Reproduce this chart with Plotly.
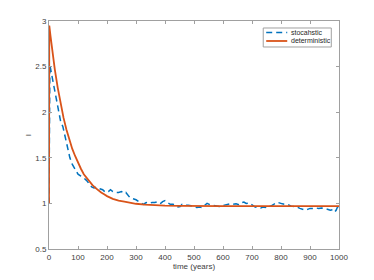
import plotly.graph_objects as go

# deterministic model
det_t = [0, 1, 5, 10, 20, 30, 40, 50, 60, 70, 80, 90, 100, 110, 120, 130, 140, 150,
         160, 170, 180, 190, 200, 220, 240, 260, 280, 300, 330, 360, 400, 450, 500,
         600, 700, 800, 900, 1000]
det_I = [1.0, 2.95, 2.84, 2.71, 2.47, 2.27, 2.10, 1.94, 1.81, 1.70, 1.60, 1.52, 1.44,
         1.38, 1.32, 1.28, 1.23, 1.20, 1.17, 1.14, 1.12, 1.10, 1.08, 1.05, 1.03, 1.02,
         1.005, 0.996, 0.987, 0.981, 0.976, 0.972, 0.97, 0.97, 0.97, 0.97, 0.97, 0.97]

# stochastic realisation
sto_t = [0, 3, 10, 20, 31, 40, 48, 58, 65, 72, 80, 90, 100, 110, 120, 130, 140, 147,
         155, 165, 175, 185, 195, 205, 212, 220, 230, 240, 250, 258, 265, 272, 280,
         290, 300, 310, 318, 325, 335, 345, 355, 365, 375, 385, 392, 400, 408, 418,
         428, 438, 445, 452, 459, 470, 480, 490, 500, 510, 520, 528, 537, 545, 555,
         565, 575, 587, 597, 607, 615, 625, 635, 645, 655, 665, 672, 680, 690, 700,
         711, 720, 730, 738, 746, 755, 765, 775, 783, 790, 797, 805, 815, 825, 835,
         845, 855, 865, 875, 884, 892, 900, 910, 920, 930, 940, 950, 960, 970, 978,
         985, 990, 995, 1000]
sto_I = [1.0, 2.52, 2.40, 2.23, 2.01, 1.90, 1.84, 1.70, 1.60, 1.50, 1.43, 1.37, 1.32,
         1.30, 1.28, 1.25, 1.21, 1.18, 1.17, 1.18, 1.16, 1.15, 1.12, 1.13, 1.15, 1.13,
         1.12, 1.12, 1.13, 1.11, 1.12, 1.09, 1.06, 1.05, 1.04, 1.02, 1.00, 0.99, 1.01,
         1.00, 1.01, 1.01, 1.02, 1.00, 1.02, 1.03, 1.01, 0.99, 0.99, 0.98, 0.96, 0.965,
         0.99, 0.98, 0.98, 0.975, 0.96, 0.955, 0.96, 0.955, 0.98, 1.00, 0.985, 0.98,
         0.975, 0.965, 0.975, 0.98, 0.99, 0.995, 0.99, 0.995, 0.985, 1.01, 1.015, 1.0,
         1.005, 0.985, 0.96, 0.955, 0.95, 0.96, 0.955, 0.975, 0.97, 0.99, 1.01, 1.01,
         1.0, 0.995, 0.99, 0.985, 0.97, 0.965, 0.96, 0.945, 0.93, 0.925, 0.935, 0.945,
         0.945, 0.95, 0.945, 0.95, 0.945, 0.935, 0.925, 0.93, 0.905, 0.925, 0.96, 0.97]

x_ticks = [0, 100, 200, 300, 400, 500, 600, 700, 800, 900, 1000]
y_ticks = [0.5, 1, 1.5, 2, 2.5, 3]
y_tick_text = ["0.5", "1", "1.5", "2", "2.5", "3"]

series_names = ["stocahstic", "deterministic"]
series_colors = ["#0072BD", "#D95319"]
series_dash = ["6px,4px", "solid"]
series_width = [1.5, 1.8]

fig = go.Figure()
fig.add_trace(go.Scatter(x=sto_t, y=sto_I, mode="lines", name=series_names[0],
                         line=dict(color=series_colors[0], width=series_width[0],
                                   dash=series_dash[0])))
fig.add_trace(go.Scatter(x=det_t, y=det_I, mode="lines", name=series_names[1],
                         line=dict(color=series_colors[1], width=series_width[1],
                                   dash=series_dash[1])))

axis_common = dict(showgrid=False, zeroline=False, showline=True, linecolor="#a0a0a0",
                   linewidth=1, mirror="ticks", ticks="inside", ticklen=3,
                   tickcolor="#a0a0a0", tickfont=dict(size=8, color="#404040"))

# compact MATLAB-style legend box (paper coordinates)
shapes = [dict(type="rect", xref="paper", yref="paper", x0=0.7387, x1=0.9734,
               y0=0.886, y1=0.9693, line=dict(color="#a0a0a0", width=1),
               fillcolor="white", layer="above")]
annotations = []
for i, (nm, col, ds, w) in enumerate(zip(series_names, series_colors, series_dash, series_width)):
    yy = 0.9496 - i * 0.0373
    shapes.append(dict(type="line", xref="paper", yref="paper", x0=0.749, x1=0.8215,
                       y0=yy, y1=yy, line=dict(color=col, width=w, dash=ds), layer="above"))
    annotations.append(dict(text=nm, xref="paper", yref="paper", x=0.8284, y=yy,
                            xanchor="left", yanchor="middle", showarrow=False,
                            font=dict(size=7, color="#262626")))

fig.update_layout(
    width=374, height=280,
    margin=dict(l=49, r=35, t=21, b=31),
    paper_bgcolor="white", plot_bgcolor="white",
    font=dict(family="Liberation Sans, Arial, sans-serif", size=8, color="#404040"),
    xaxis=dict(range=[0, 1000], tickvals=x_ticks,
               title=dict(text="time (years)", font=dict(size=8, color="#404040"), standoff=2),
               **axis_common),
    yaxis=dict(range=[0.5, 3], tickvals=y_ticks, ticktext=y_tick_text,
               title=dict(text="I", font=dict(size=8, color="#404040"), standoff=2),
               **axis_common),
    showlegend=False,
    shapes=shapes,
    annotations=annotations,
)

fig.write_html("out.html", config={"displayModeBar": False},
               post_script="document.body.style.margin='0';")
